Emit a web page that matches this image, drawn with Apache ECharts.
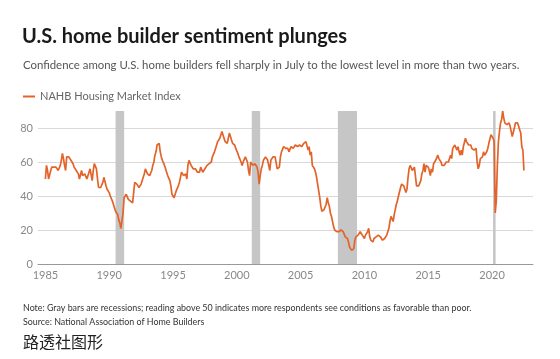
<!DOCTYPE html>
<html><head><meta charset="utf-8">
<script src="https://cdn.jsdelivr.net/npm/echarts@6/dist/echarts.min.js"></script>
<style>html,body{margin:0;padding:0;background:#fff}#c{width:560px;height:359px}</style>
</head><body><div id="c"></div>
<script>
const startYear = 1985;
const seriesName = 'NAHB Housing Market Index';
const hmi1985to1989 = [
  50,58,55,50,49,55,57,58,57,58,57,56,
  55,56,58,61,65,62,58,55,63,64,63,62,
  61,60,59,57,56,55,55,53,50,51,55,52,
  51,53,52,50,51,54,56,55,49,55,59,60,
  56,50,45,44,45,45,48,51,50,46,44,43
];
const hmi1990to1994 = [
  42,40,40,37,35,33,31,31,29,26,24,21,
  20,30,39,40,41,42,38,37,37,36,36,35,
  48,49,47,46,45,46,47,47,51,53,56,55,
  53,52,52,53,55,58,60,64,66,70,71,71,
  66,63,61,60,58,56,54,52,51,49,46,41
];
const hmi1995to1999 = [
  40,39,41,43,44,46,48,51,54,53,52,53,
  53,50,58,61,60,58,57,56,55,56,55,54,
  54,54,57,56,54,55,56,57,58,57,59,59,
  60,63,64,66,68,70,72,73,74,74,78,78,
  74,72,71,71,74,77,75,73,71,70,70,68
];
const hmi2000to2004 = [
  68,65,63,62,60,58,60,61,63,62,60,55,
  52,60,61,58,59,59,58,57,54,47,52,56,
  58,61,62,63,62,61,61,55,61,62,63,63,
  63,62,56,55,57,63,66,67,69,69,68,68,
  68,66,66,69,69,68,68,70,69,69,70,70
];
const hmi2005to2009 = [
  71,69,70,71,72,72,71,67,69,64,66,58,
  57,56,54,51,47,43,39,34,31,31,32,33,
  35,39,36,34,30,28,25,22,20,19,19,19,
  19,20,20,20,19,18,16,16,15,13,10,9,
  8,9,9,14,16,16,17,18,19,18,17,16
];
const hmi2010to2014 = [
  15,17,17,19,21,16,14,13,13,15,16,16,
  16,17,17,16,15,14,15,15,14,17,19,21,
  25,28,28,25,29,29,35,37,40,41,45,47,
  47,46,44,42,44,51,56,58,57,55,54,57,
  56,46,46,46,45,49,53,55,59,54,58,57
];
const hmi2015to2019 = [
  57,55,52,56,54,59,60,61,62,64,62,61,
  60,58,58,58,58,60,59,60,62,64,62,68,
  67,70,71,67,69,66,64,67,64,69,70,74,
  72,71,70,69,70,68,67,67,67,68,60,56,
  58,62,62,63,66,64,65,66,68,71,70,76
];
const hmi2020to2022 = [
  75,74,72,30,37,58,72,78,83,85,90,86,
  83,84,82,83,83,81,80,75,76,80,83,84,
  83,81,79,77,69,67,55
];
const recessions = [[1990.5,1991.17],[2001.17,2001.83],[2007.92,2009.42],[2020.08,2020.28]];
const xTickLabels = [1985,1990,1995,2000,2005,2010,2015,2020];
const yTickLabels = [0,20,40,60,80];

const allValues = [].concat(hmi1985to1989, hmi1990to1994, hmi1995to1999, hmi2000to2004,
  hmi2005to2009, hmi2010to2014, hmi2015to2019, hmi2020to2022);
const lineData = allValues.map((v, i) => [startYear + i / 12, v]);

const chart = echarts.init(document.getElementById('c'), null, {renderer: 'canvas'});
const FONT = 'Lato, "Noto Sans", sans-serif';
chart.setOption({
  animation: false,
  color: ['#e3642a'],
  textStyle: {fontFamily: FONT},
  grid: {left: 38, right: 27, top: 111, bottom: 95},
  legend: {
    data: [seriesName], left: 23, top: 91, padding: 0,
    icon: 'rect', itemWidth: 12, itemHeight: 2,
    textStyle: {fontSize: 11, color: '#666', fontFamily: FONT}
  },
  xAxis: {
    type: 'value', min: 1984.42, max: 2023.21,
    axisLine: {lineStyle: {color: '#999', width: 1}},
    axisTick: {show: false},
    splitLine: {show: false},
    axisLabel: {customValues: xTickLabels, color: '#888', fontSize: 11, margin: 6,
      fontFamily: FONT, formatter: v => String(v)}
  },
  yAxis: {
    type: 'value', min: 0, max: 90, interval: 20,
    axisLine: {show: false}, axisTick: {show: false},
    splitLine: {lineStyle: {color: '#d9d9d9', width: 1}, showMinLine: false, showMaxLine: false},
    axisLabel: {customValues: yTickLabels, color: '#888', fontSize: 11, margin: 5, fontFamily: FONT}
  },
  graphic: [
    {type: 'text', left: 22, top: 27, style: {text: 'U.S. home builder sentiment plunges',
      font: 'bold 20px Lato', fill: '#1a1a1a'}},
    {type: 'text', left: 23, top: 60, style: {text: 'Confidence among U.S. home builders fell sharply in July to the lowest level in more than two years.',
      font: '11.4px Lato', fill: '#555'}},
    {type: 'text', left: 23, top: 304, style: {text: 'Note: Gray bars are recessions; reading above 50 indicates more respondents see conditions as favorable than poor.',
      font: '8.9px Lato', fill: '#333'}},
    {type: 'text', left: 23, top: 318, style: {text: 'Source: National Association of Home Builders',
      font: '8.9px Lato', fill: '#333'}},
    {type: 'text', left: 23, top: 334, style: {text: '路透社图形',
      font: '16px "Noto Sans CJK SC"', fill: '#222'}}
  ],
  series: [{
    name: seriesName, type: 'line', data: lineData, showSymbol: false,
    lineStyle: {width: 1.7, color: '#e3642a'}, z: 3,
    markArea: {silent: true, itemStyle: {color: '#c6c6c6'},
      data: recessions.map(r => [{xAxis: r[0]}, {xAxis: r[1]}])}
  }]
});
</script></body></html>
